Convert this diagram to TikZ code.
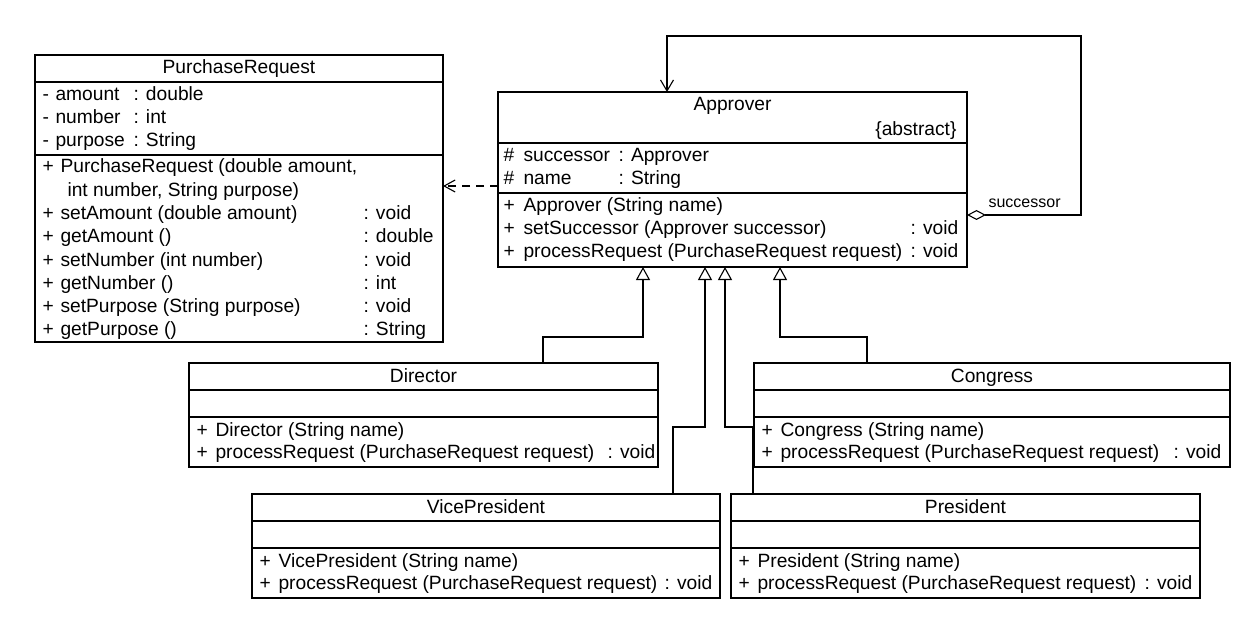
\documentclass[tikz,border=0pt]{standalone}
\usepackage{fontspec}
\setmainfont{Liberation Sans}
\usetikzlibrary{arrows.meta}
\tikzset{
 cls/.style={draw,line width=1.3pt,anchor=north west,inner sep=0pt,outer sep=0pt},
 row/.style={anchor=base west,inner sep=0pt},
 gen/.style={-{Triangle[open,length=13pt,width=14pt,line width=1.1pt]}},
 dep/.style={dash pattern=on 8pt off 6pt,-{Straight Barb[length=11pt,width=12pt,line width=1.1pt]}},
 assoc/.style={{Diamond[open,length=19pt,width=10pt,line width=1.1pt]}-{Straight Barb[length=11pt,width=13pt,line width=1.1pt]}}
}
\begin{document}
\begin{tikzpicture}[x=1pt,y=-1pt,line width=1.1pt,font=\fontsize{19.2}{23}\selectfont]
\useasboundingbox (0,0) rectangle (1260,620);
\node[cls,minimum width=408pt,minimum height=287pt](pr) at (35,55){};
\draw[line width=1.3pt] ([yshift=-27pt]pr.north west) -- ([yshift=-27pt]pr.north east)
 ([yshift=-100pt]pr.north west) -- ([yshift=-100pt]pr.north east);
\node[anchor=base] at ([yshift=-19pt]pr.north){PurchaseRequest};
\foreach \a/\b[count=\i from 0] in {amount/: double,number/: int,purpose/: String}
\node[row] at (42,101+23*\i){-} node[row] at (55,101+23*\i){\a} node[row] at (133,101+23*\i){\b};
\node[row] at (42,173){+} node[row] at (60,173){PurchaseRequest (double amount,}
 node[row] at (67,197){int number, String purpose)};
\foreach \a/\b[count=\i from 0] in {setAmount (double amount)/: void,getAmount ()/: double,
 setNumber (int number)/: void,getNumber ()/: int,setPurpose (String purpose)/: void,getPurpose ()/: String}
\node[row] at (42,220+23*\i){+} node[row] at (60,220+23*\i){\a} node[row] at (363,220+23*\i){\b};
\node[cls,minimum width=469pt,minimum height=175pt](ap) at (498,92){};
\draw[line width=1.3pt] ([yshift=-51pt]ap.north west) -- ([yshift=-51pt]ap.north east)
 ([yshift=-101pt]ap.north west) -- ([yshift=-101pt]ap.north east);
\node[anchor=base] at ([yshift=-19pt]ap.north){Approver};
\node[anchor=base east,inner sep=0pt] at (957,136){\{abstract\}};
\foreach \a/\b[count=\i from 0] in {successor/: Approver,name/: String}
\node[row] at (503,162+23*\i){\#} node[row] at (523,162+23*\i){\a} node[row] at (618,162+23*\i){\b};
\foreach \a/\b[count=\i from 0] in {Approver (String name)/,setSuccessor (Approver successor)/: void,
 processRequest (PurchaseRequest request)/: void}
\node[row] at (503,212+23*\i){+} node[row] at (523,212+23*\i){\a} node[row] at (910,212+23*\i){\b};
\foreach \n/\x/\y/\w/\r in {Director/189/363/469/418,Congress/754/363/476/419,
 VicePresident/252/494/468/412,President/731/494/469/413}{
\node[cls,minimum width=\w pt,minimum height=104pt](\n) at (\x,\y){};
\draw[line width=1.3pt] ([yshift=-27pt]\n.north west) -- ([yshift=-27pt]\n.north east)
 ([yshift=-54pt]\n.north west) -- ([yshift=-54pt]\n.north east);
\node[anchor=base] at ([yshift=-19pt]\n.north){\n};
\node[row] at (\x+7,\y+73){+} node[row] at (\x+26,\y+73){\n\ (String name)};
\node[row] at (\x+7,\y+95){+} node[row] at (\x+26,\y+95){processRequest (PurchaseRequest request)}
 node[row] at (\x+\r,\y+95){: void};
}
\coordinate (d1) at (643,337);
\coordinate (c1) at (780,337);
\coordinate (v1) at (705,427);
\coordinate (p1) at (725,427);
\coordinate (sa) at (1081,36);
\draw[gen] ([xshift=354pt]Director.north west) |- (d1) -- (d1 |- ap.south);
\draw[gen] ([xshift=113pt]Congress.north west) |- (c1) -- (c1 |- ap.south);
\draw[gen] ([xshift=421pt]VicePresident.north west) |- (v1) -- (v1 |- ap.south);
\draw[gen] ([xshift=22pt]President.north west) |- (p1) -- (p1 |- ap.south);
\draw[dep] ([yshift=-94pt]ap.north west) coordinate (dp) -- (pr.east |- dp);
\draw[assoc] ([yshift=-123pt]ap.north east) -| (sa) -| ([xshift=169pt]ap.north west);
\node[row,font=\fontsize{16}{19}\selectfont] at (988,208){successor};
\end{tikzpicture}
\end{document}
